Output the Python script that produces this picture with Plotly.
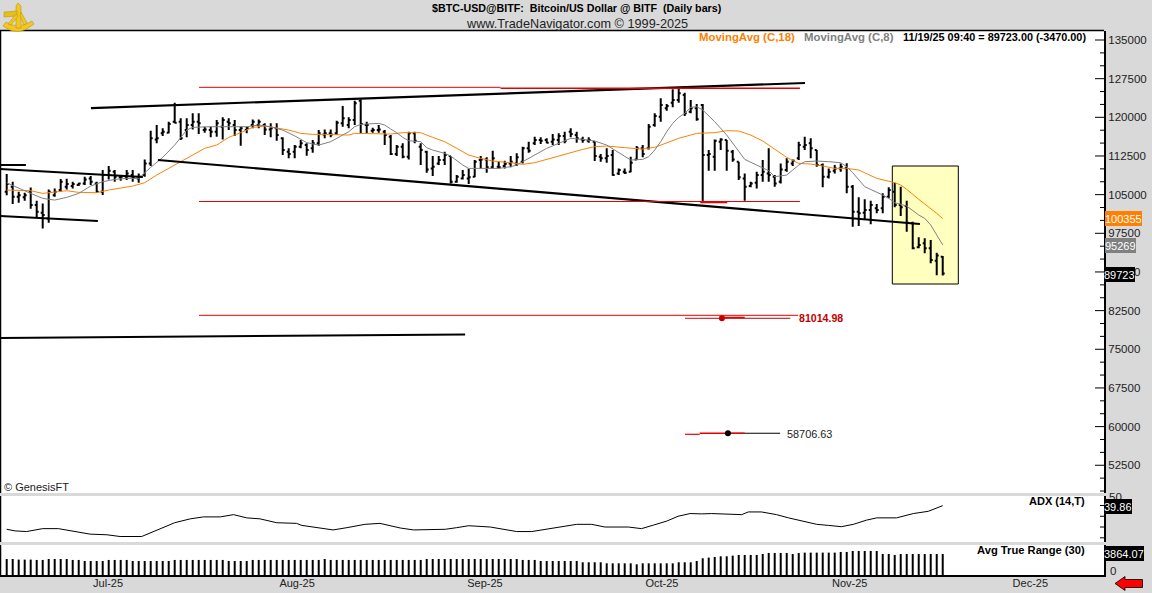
import pandas as pd
import plotly.graph_objects as go

W, H = 1152, 593
FONT = "Liberation Sans"
GRAY = "#D9D9D9"
ORANGE = "#FF8000"
MIDGRAY = "#808080"
RED = "#E80000"
DARKRED = "#C00000"

# daily bars, first bar is Jun 16 2025
first_day = "2025-06-16"
opens = [105570,106540,104600,104470,105570,102980,101480,100390,104900,105890,
         106540,106670,106860,107180,108150,107180,105570,108800,109450,108350,
         108480,108800,108150,108800,111060,115720,116890,117020,119150,119150,
         117530,118500,119150,117530,117530,117210,118180,119150,118500,117530,
         117530,118500,118500,118500,117660,117860,115920,113330,113330,114300,
         114620,113980,114950,116690,116890,116890,118830,118500,119480,123230,
         118500,117410,117530,117210,116240,112880,114300,112360,116890,114300,
         113330,110090,111060,111710,112490,107500,108150,108150,108480,111710,
         111840,110290,110420,110550,111060,111060,111390,113980,114950,115590,
         115590,115270,115590,116370,117210,116560,115720,115460,115270,112360,
         112040,112680,109120,109450,109450,111840,113980,113980,118500,120120,
         121740,122840,123360,124330,121090,121740,122390,112680,112360,115270,
         115590,113330,111390,108150,106670,107310,108800,109120,108480,107500,
         109770,111060,112040,114300,114950,113650,110740,108480,109640,110090,
         110100,106550,101700,101500,102020,102340,102340,104600,105580,102990,
         102790,99430,94780,95550,94580,92190,92960]
highs = [109000,107500,105570,105370,106400,103820,103300,106020,106210,108020,
         108090,107500,107310,108480,108610,107500,109770,110550,109770,108800,
         109770,109770,109120,111840,117400,118500,117860,119150,122840,119800,
         119800,120770,120770,118180,118180,119480,120000,119800,119480,118180,
         118180,119600,119600,118830,118830,118830,116110,113980,114620,115590,
         114950,115590,117530,117660,117660,119350,122190,119990,123230,123490,
         119150,117990,118500,117530,116560,114620,114950,117210,117210,114950,
         113520,112490,112490,113330,112490,108800,109770,110090,111710,112490,
         112230,113520,111390,111580,112490,113010,114300,115270,116240,116110,
         115920,116760,116890,117210,117860,117210,116240,116110,115270,112880,
         113980,113650,110090,110090,112360,114430,114620,118700,120770,123680,
         122580,125430,125620,124780,123360,122580,122580,113650,115720,115920,
         115590,113650,111390,109120,107500,109450,111710,113980,108800,111060,
         112040,111840,115270,116240,115920,113650,111060,110090,110740,111060,
         111070,106870,104480,104090,103830,103180,105250,106420,107320,106550,
         103830,99760,96720,96520,96200,93740,93100]
lows = [104900,103170,103430,103820,102270,100580,98450,99550,104590,105570,
        106020,106210,106670,106860,106860,105370,104920,107960,107500,107700,
        107830,107500,107310,108480,110550,114950,116370,116890,118830,115590,
        116110,117660,116760,117020,116110,116240,115720,117530,116370,114490,
        116890,117860,117860,116560,116110,115460,112680,112040,112040,113980,
        112550,113140,114490,115920,116110,116560,118180,117860,118500,116890,
        116890,117020,117020,114620,112680,112490,112040,111840,114950,110740,
        109250,108610,110740,110740,107180,107310,107960,107050,108350,110090,
        109250,110090,110090,110090,110290,110550,111060,113140,114620,114820,
        114950,114620,114620,114950,116110,115080,115080,115080,111520,111390,
        111190,108670,108800,108990,109320,111710,112230,113780,118180,119150,
        121290,121930,122840,120250,120770,119350,103630,109640,109640,113650,
        109640,111390,107830,103820,106410,106210,107500,107500,106540,107180,
        109450,110550,111710,113650,112040,110420,106410,108150,109120,109450,
        105250,98790,98920,100080,99240,101370,101370,104280,102540,100860,
        97820,94390,94580,93610,91670,89340,89300]
closes = [107050,104600,104900,104900,102980,101680,101040,105570,105570,107500,
          107050,107050,107180,107960,107500,105570,108800,109640,108480,108480,
          109120,108350,108480,111060,115920,115920,117210,118700,118960,115920,
          118500,119150,118830,117660,117210,118830,119480,118830,117530,117860,
          117860,119150,119150,117660,117860,116560,113650,112880,114300,114950,
          113650,114950,116890,116890,116690,118960,119800,119480,122710,118700,
          118500,117530,117660,116560,112880,114300,112360,116890,115460,113650,
          109900,110420,111710,112680,107500,108480,108800,108350,111390,111840,
          110290,112040,110290,110940,111390,112230,113980,113520,115590,115460,
          115080,115720,116370,115460,116760,115920,115590,115590,112490,112040,
          112490,108800,109770,109250,111190,113980,112880,118180,120250,122390,
          122190,123360,124650,120770,121740,119610,112680,112880,115460,115720,
          113520,111840,108350,106540,107180,108800,109450,108800,107180,109900,
          111390,111580,114620,114620,113980,110740,108480,109450,110090,110420,
          106550,101700,101370,102020,102990,102020,104600,105900,102990,102540,
          99560,94580,95230,94580,92320,93193,89723]

# moving averages, bar number and value
ma8_idx = [0,2,4,6,8,10,12,14,16,18,20,22,24,26,28,30,31,34,36,38,40,42,44,46,48,50,51,52,54,55,56,57,58,59,62,63,64,65,66,67,69,70,71,73,74,75,76,77,79,82,84,85,86,88,90,92,94,96,98,100,102,104,106,107,108,109,110,111,112,113,114,115,116,118,120,122,123,125,127,128,130,131,132,133,135,137,139,140,141,143,144,146,147,148,150,152,153,154,155,156]
ma8 = [107310,106210,105240,104270,103950,104470,105240,106670,107500,107960,108150,108150,110290,112230,114620,117530,118050,118180,118180,118180,118180,118500,118180,117530,116400,115080,114820,114620,115270,115920,116560,117210,118180,118630,118830,118500,117730,117020,116110,115460,115270,114110,113650,113010,112490,111580,110740,110090,110090,110090,110420,110740,111390,112680,113980,114950,115920,115720,115400,114620,113140,111710,111840,112360,113650,115270,117210,118830,120000,120770,121930,122060,121420,119150,116560,113330,111840,110740,109640,108480,108800,109770,110740,111390,111520,111390,111190,110430,109260,106550,106030,104930,104280,103440,102790,101050,100400,99110,97170,95269]
ma18_idx = [0,2,4,6,8,10,12,15,17,19,21,23,25,27,29,31,33,35,37,39,41,43,45,47,49,51,53,55,57,58,61,64,66,69,71,73,75,77,79,81,84,86,88,90,92,94,96,98,100,103,106,108,110,112,114,115,118,120,122,124,126,128,130,132,134,136,138,140,142,145,148,149,150,152,154,155,156]
ma18 = [105890,105760,105760,105240,105570,105760,105440,105370,105890,106210,106670,107310,108800,110090,111390,112680,113980,114620,116110,117020,118050,118310,117990,117530,116890,116690,116690,116560,116560,116890,116760,116760,117020,117020,116110,115270,113980,112680,112040,111520,111190,110870,111190,111840,112420,113200,113780,114300,114430,114110,113850,114170,115080,115920,116560,116890,117020,117410,117340,116560,115400,113850,112230,111060,110940,110550,110090,110100,109780,108160,107320,106870,106030,104090,102340,101370,100355]

# ADX panel
adx_idx = [0,1.4,3.3,6,8.6,11.7,13.9,16.7,18.9,22.5,23.9,26,28,30.6,32.8,35.6,37.8,40,42.2,45,48.3,49.2,52.2,54.4,56.7,59.7,62.2,63.9,65.6,67.8,71.4,73.1,75,77,80.6,82.8,85,87.5,90,92.8,95,97.5,99.7,103.6,105.8,107.8,110,111.9,113.9,115.8,117.5,122.5,123.6,125.8,128.3,130.3,132.8,135,137,139.1,141.1,143.3,145,148.3,151.1,153.6,156]
adx = [17.9,16.4,15.8,18.5,18.5,15.5,13.4,12.8,11.2,11.2,14.3,19.4,24,27.6,29.4,29.4,31.5,28.5,27.6,24,23.4,21.5,19.4,17.3,19.4,22.5,23.4,21,19.1,17.3,17.3,17.9,19.4,21.2,20,17.9,15.8,15.8,17.9,20,22.5,22.5,20,20,18.5,21.8,25.5,30,32.5,32.2,32.5,31.5,34,34,31.5,28.5,25.5,22.5,21.5,20.3,22.5,26.4,28.5,28.5,32.5,34.6,39.86]

# Avg True Range panel, one value per bar
atr = [2950,2950,2830,2830,2830,2770,2770,2950,2950,2950,2950,2770,2770,2580,2580,2580,2580,2770,2770,2770,
       2770,2580,2580,2580,2580,2580,2580,2580,2770,2770,2770,2770,2770,2770,2770,2770,2770,2580,2580,2580,
       2580,2770,2770,2770,2770,2770,2770,2770,2770,2770,2770,2770,2770,2950,2770,2770,2770,2770,2770,2770,
       2770,2770,2770,2770,2770,2770,2770,2770,2770,2770,2950,2950,2950,2950,2950,2950,2950,2950,2950,2950,
       2950,2950,2950,2950,2950,2950,2770,2770,2770,2580,2580,2580,2580,2580,2580,2580,2340,2340,2340,2340,
       2150,2150,2150,2150,2150,1970,2150,2150,2150,2150,2150,2150,2340,2340,2340,2580,3075,3200,3320,3440,
       3440,3560,3690,3690,3690,3690,3870,4055,4055,4055,4055,3870,4055,4116,4116,4116,4116,4116,4116,4240,
       4240,4423,4423,4423,4423,4423,3870,3870,3690,3870,3864,3864,3864,3864,3864,3864,3864.07]

# trend lines drawn on the chart
channel_top_idx, channel_top = [14.05, 133.05], [121800, 126660]
channel_low_idx, channel_low = [25.2, 152.2], [111720, 99300]
left_mid_idx, left_mid = [-1.1, 22.7], [109970, 108420]
left_top_idx, left_top = [-1.1, 3.2], [110750, 110750]
left_low_idx, left_low = [-1.1, 15.2], [100860, 99890]
floor_idx, floor_line = [-1.1, 76.4], [77190, 77870]
red_a_idx, red_a = [32.05, 82.3], [125820, 125820]
red_b_idx, red_b = [82.3, 132.2], [125630, 125630]
red_c_idx, red_c = [32.05, 132.2], [103670, 103670]
red_d_idx, red_d = [115.6, 120.1], [103510, 103510]
red_e_idx, red_e = [32.05, 131.9], [81590, 81590]
red_f_idx, red_f = [113.05, 115.5], [81010, 81010]
red_g_idx, red_g = [115.5, 130.6], [81015, 81015]
red_h_idx, red_h = [119.2, 123], [81170, 81170]
red_i_idx, red_i = [113.05, 115.5], [58506, 58506]
red_j_idx, red_j = [115.5, 123], [58706.63, 58706.63]
blk_k_idx, blk_k = [119.7, 128.9], [58706.63, 58706.63]
target_idx = [119.2, 120.2]
target_val = [81014.98, 58706.63]
target_col = [DARKRED, "black"]

month_labels = ["Jul-25", "Aug-25", "Sep-25", "Oct-25", "Nov-25", "Dec-25"]
month_pos = [16.9, 48.4, 79.7, 109.2, 140.5, 170.6]
price_ticks = [135000, 127500, 120000, 112500, 105000, 97500, 90000, 82500, 75000, 67500, 60000, 52500]
price_minor = [p for p in range(47500, 137500, 2500) if p not in price_ticks]
adx_ticks = [10, 20, 30, 40]


def day(i):
    return pd.Timestamp(first_day) + pd.Timedelta(hours=float(i) * 24)


def days(idx):
    return [day(i) for i in idx]


def px(x):
    return x / W


def py(y):
    return 1 - y / H


dates = pd.date_range(first_day, periods=len(closes))

fig = go.Figure()

fig.add_trace(go.Ohlc(x=dates, open=opens, high=highs, low=lows, close=closes, tickwidth=0.33,
                      increasing_line=dict(color="black", width=2),
                      decreasing_line=dict(color="black", width=2)))
fig.add_trace(go.Scatter(x=days(ma18_idx), y=ma18, mode="lines", line=dict(color=ORANGE, width=1)))
fig.add_trace(go.Scatter(x=days(ma8_idx), y=ma8, mode="lines", line=dict(color=MIDGRAY, width=1)))

lines = [
    (channel_top_idx, channel_top, "black", 2.2),
    (channel_low_idx, channel_low, "black", 2.2),
    (left_mid_idx, left_mid, "black", 2),
    (left_top_idx, left_top, "black", 2),
    (left_low_idx, left_low, "black", 2),
    (floor_idx, floor_line, "black", 2),
    (red_a_idx, red_a, RED, 1),
    (red_b_idx, red_b, RED, 1.5),
    (red_c_idx, red_c, RED, 1),
    (red_d_idx, red_d, RED, 2),
    (red_e_idx, red_e, RED, 1),
    (red_f_idx, red_f, RED, 1),
    (red_g_idx, red_g, DARKRED, 1),
    (red_h_idx, red_h, RED, 1.5),
    (blk_k_idx, blk_k, "black", 1.2),
    (red_i_idx, red_i, RED, 1.2),
    (red_j_idx, red_j, RED, 1.5),
]
for xs, ys, col, wid in lines:
    fig.add_trace(go.Scatter(x=days(xs), y=ys, mode="lines", line=dict(color=col, width=wid)))

fig.add_trace(go.Scatter(x=days(target_idx), y=target_val, mode="markers",
                         marker=dict(color=target_col, size=6)))

fig.add_trace(go.Scatter(x=days(adx_idx), y=adx, mode="lines", line=dict(color="black", width=1),
                         xaxis="x", yaxis="y2"))
fig.add_trace(go.Bar(x=dates, y=atr, width=2 / 6 * 86400000, marker=dict(color="black", line_width=0),
                     xaxis="x", yaxis="y3"))

# value tags and captions, all placed in window pixels
def note(x, y, text, size=11, color="black", bold=False, anchor="left", bg=None, height=None):
    fig.add_annotation(x=px(x), y=py(y), xref="paper", yref="paper",
                       text=f"<b>{text}</b>" if bold else text, showarrow=False, xanchor=anchor,
                       yanchor="middle", bgcolor=bg, borderpad=0, borderwidth=0, height=height,
                       font=dict(family=FONT, size=size, color=color))


note(576.5, 8, "$BTC-USD@BITF:  Bitcoin/US Dollar @ BITF  (Daily bars)", size=10.7, bold=True, anchor="center")
note(576.5, 24, "www.TradeNavigator.com © 1999-2025", size=12.7, color="#222222", anchor="center")
note(699, 37, "MovingAvg (C,18)", size=11.4, color=ORANGE, bold=True)
note(804, 37, "MovingAvg (C,8)", size=11.4, color=MIDGRAY, bold=True)
note(903, 37, "11/19/25 09:40 = 89723.00 (-3470.00)", size=10.85, bold=True)
note(4, 487, "© GenesisFT", size=11, color="#222222")
note(1085, 501, "ADX (14,T)", size=11, bold=True, anchor="right")
note(1085, 550, "Avg True Range (30)", size=11.2, bold=True, anchor="right")
note(799, 318, "81014.98", size=10.6, color=DARKRED, bold=True)
note(787, 433.5, "58706.63", size=10.9, color="#222222")

note(1109, 497, "50", size=11.5, color="#222222")
note(1105, 219, "100355", size=11, color="white", bg=ORANGE, height=15)
note(1105, 245, "95269", size=11, color="white", bg=MIDGRAY, height=15)
note(1104, 274, "89723", size=11, color="white", bg="black", height=15)
note(1104, 506, "39.86", size=11, color="white", bg="black", height=15)
note(1104, 553, "3864.07", size=11, color="white", bg="black", height=15)
note(1110, 571, "0", size=11.5, color="#222222")

shapes = [
    # yellow highlight box
    dict(type="rect", xref="x", yref="y", x0=day(147.6), x1=day(158.6), y0=87664, y1=110556,
         fillcolor="#FFFFC0", line=dict(color="black", width=1), layer="below"),
    # top and left edges of the panels
    dict(type="line", xref="paper", yref="paper", x0=px(0), x1=px(1104), y0=py(30.5), y1=py(30.5),
         line=dict(color="black", width=1.5)),
    dict(type="line", xref="paper", yref="paper", x0=px(0.5), x1=px(0.5), y0=py(30.5), y1=py(493),
         line=dict(color="black", width=1.5)),
    dict(type="line", xref="paper", yref="paper", x0=px(0.5), x1=px(0.5), y0=py(496), y1=py(542),
         line=dict(color="black", width=1.5)),
    dict(type="line", xref="paper", yref="paper", x0=px(0.5), x1=px(0.5), y0=py(545), y1=py(576),
         line=dict(color="black", width=1.5)),
    # red arrow, lower right
    dict(type="path", xref="paper", yref="paper", fillcolor="#FF0000", line=dict(color="black", width=0.8),
         path=f"M{px(1115)},{py(583.5)} L{px(1125)},{py(576.5)} L{px(1125)},{py(579.5)} L{px(1142.5)},{py(579.5)} "
              f"L{px(1142.5)},{py(587.5)} L{px(1125)},{py(587.5)} L{px(1125)},{py(590.5)} Z"),
    # sextant logo, lower arc
    dict(type="path", xref="paper", yref="paper", fillcolor="#F2C81E", line=dict(color="#B08A10", width=0.5),
         path=f"M{px(3)},{py(26)} Q{px(18)},{py(38)} {px(34)},{py(24)} L{px(32)},{py(21)} Q{px(18)},{py(30)} {px(6)},{py(22)} Z"),
    dict(type="path", xref="paper", yref="paper", fillcolor="#F2C81E", line=dict(color="#B08A10", width=0.5),
         path=f"M{px(18)},{py(3)} L{px(21)},{py(6)} L{px(21)},{py(28)} L{px(16)},{py(28)} L{px(16)},{py(6)} Z"),
    dict(type="path", xref="paper", yref="paper", fillcolor="#E8BE18", line=dict(color="#B08A10", width=0.5),
         path=f"M{px(4)},{py(12)} L{px(17)},{py(11)} L{px(17)},{py(16)} L{px(4)},{py(17)} Z"),
    dict(type="path", xref="paper", yref="paper", fillcolor="#F2C81E", line=dict(color="#B08A10", width=0.5),
         path=f"M{px(8)},{py(24)} L{px(16)},{py(14)} L{px(18)},{py(16)} L{px(11)},{py(25)} Z"),
    dict(type="path", xref="paper", yref="paper", fillcolor="#F2C81E", line=dict(color="#B08A10", width=0.5),
         path=f"M{px(21)},{py(12)} L{px(27)},{py(23)} L{px(24)},{py(25)} L{px(20)},{py(16)} Z"),
]

# tick marks point into the plot, long on labelled prices
for p in price_ticks:
    shapes.append(dict(type="line", xref="paper", yref="y", x0=px(1095), x1=px(1104), y0=p, y1=p,
                       line=dict(color="black", width=1)))
for p in price_minor:
    shapes.append(dict(type="line", xref="paper", yref="y", x0=px(1100), x1=px(1104), y0=p, y1=p,
                       line=dict(color="black", width=1)))
for v in adx_ticks:
    shapes.append(dict(type="line", xref="paper", yref="y2", x0=px(1100), x1=px(1104), y0=v, y1=v,
                       line=dict(color="black", width=1)))

axis_line = dict(showline=True, linecolor="black", linewidth=2, showgrid=False, zeroline=False)

fig.update_layout(
    width=W, height=H, autosize=False, showlegend=False, hovermode=False,
    margin=dict(l=0, r=0, t=0, b=0, pad=0),
    paper_bgcolor=GRAY, plot_bgcolor="white", barmode="overlay", shapes=shapes,
    font=dict(family=FONT, size=12, color="#222222"),
    xaxis=dict(domain=[0, px(1104)], anchor="y3", type="date", range=[day(-1.117), day(182.88)],
               rangeslider=dict(visible=False), showgrid=False, zeroline=False, showline=True,
               linecolor="black", linewidth=2, ticks="", tickmode="array", tickvals=days(month_pos),
               ticktext=month_labels, ticklabelstandoff=-3,
               tickfont=dict(size=11, color="#222222", family=FONT)),
    yaxis=dict(domain=[py(493), py(30.5)], anchor="x", side="right", range=[47118, 136843],
               tickmode="array", tickvals=price_ticks, tickformat="d", ticks="",
               tickfont=dict(size=11.5, color="#222222", family=FONT), **axis_line),
    yaxis2=dict(domain=[py(542), py(496)], anchor="x", side="right", range=[6.1, 48.8],
                showticklabels=False, ticks="", **axis_line),
    yaxis3=dict(domain=[py(575), py(545)], anchor="x", side="right", range=[0, 5520],
                showticklabels=False, ticks="", **axis_line),
)

fig.write_html("out.html", config={"displayModeBar": False},
               post_script="document.body.style.margin='0';document.body.style.overflow='hidden';")
